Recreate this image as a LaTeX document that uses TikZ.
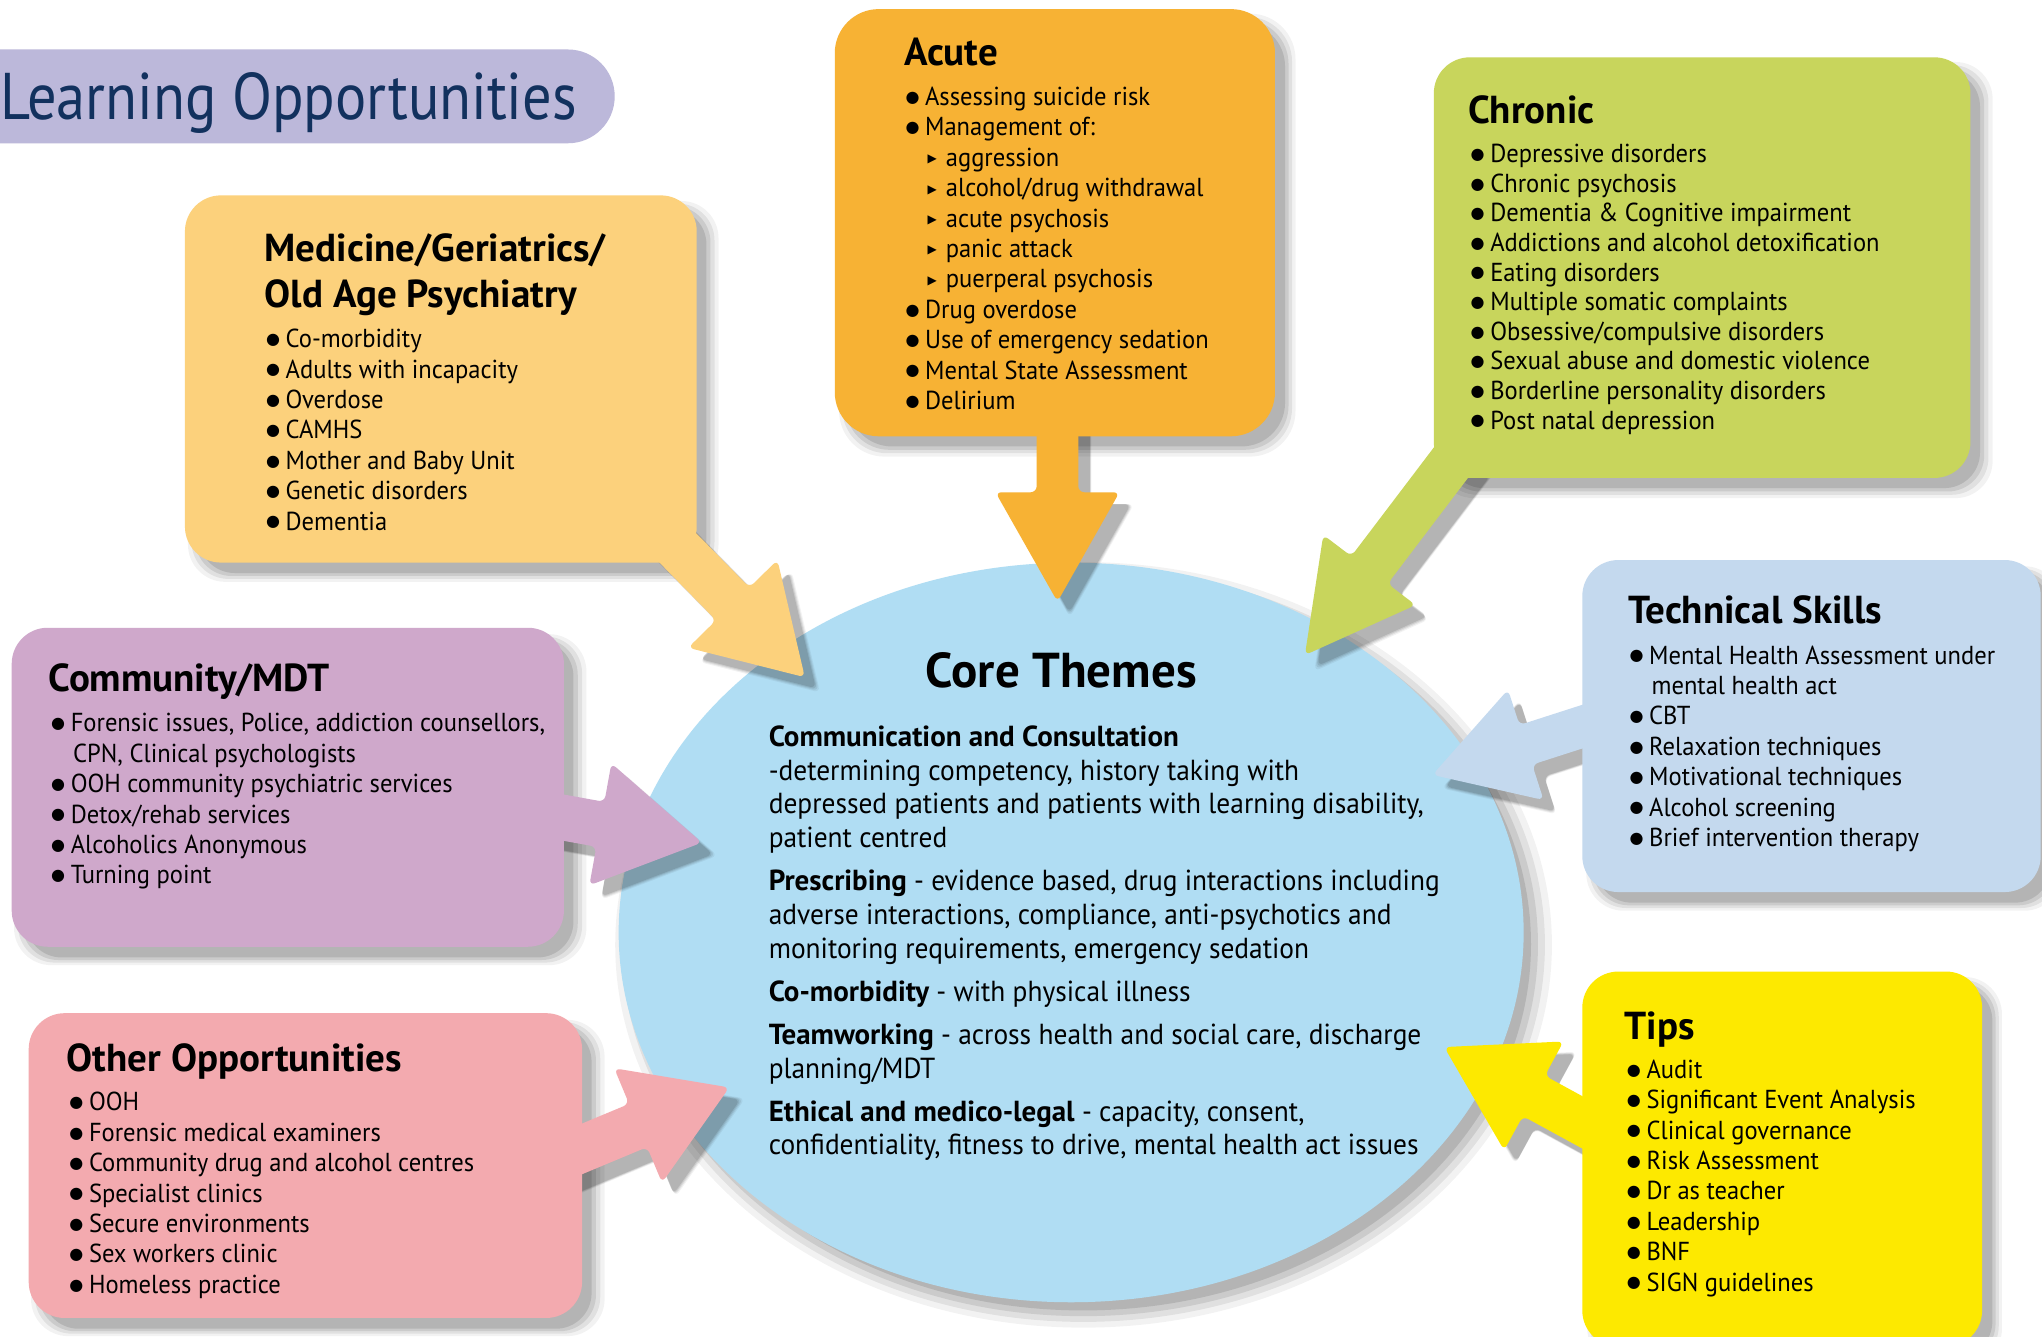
\documentclass[tikz,border=0pt]{standalone}
\usepackage{fontspec}
\setmainfont{PT Sans}
\newfontfamily\bodyf[FakeStretch=0.945]{PT Sans}
\newfontfamily\ttlf[FakeStretch=0.885]{PT Sans}
\newfontfamily\symf{DejaVu Sans}
\usetikzlibrary{shapes.geometric,calc,shadows}
\pgfdeclarelayer{bg}\pgfdeclarelayer{shad}\pgfdeclarelayer{arr}
\pgfsetlayers{bg,shad,arr,main}
\definecolor{cTitleBg}{HTML}{BCB8DA}
\definecolor{cNavy}{HTML}{12315E}
\definecolor{cMed}{HTML}{FCD17C}
\definecolor{cAcute}{HTML}{F7B234}
\definecolor{cChron}{HTML}{C8D55C}
\definecolor{cTech}{HTML}{C4D9EE}
\definecolor{cTips}{HTML}{FDE900}
\definecolor{cComm}{HTML}{CFA8CB}
\definecolor{cOther}{HTML}{F3AAAF}
\definecolor{cCore}{HTML}{B0DDF3}
\newcommand\bu{\makebox[9.8pt][l]{\raisebox{1.6pt}{\symf\fontsize{8}{8}\selectfont ●}}}
\newcommand\sbu{\hspace*{11pt}\makebox[9.2pt][l]{\raisebox{1.8pt}{\symf\fontsize{6}{6}\selectfont ▶}}}
\newcommand\cont{\hspace*{11pt}}
\newcommand\cb[1]{{\normalfont\bfseries #1}}
\newcommand\fatarrow[6]{%
  \coordinate (aB) at ($(#3)!#6!(#2)$);
  \fill[#1] ($(#2)!#4!90:(#3)$) -- ($(aB)!#4!-90:(#2)$) -- ($(aB)!#5!-90:(#2)$)
    -- (#3) -- ($(aB)!#5!90:(#2)$) -- ($(aB)!#4!90:(#2)$) -- ($(#2)!#4!-90:(#3)$) -- cycle;}
\tikzset{
  softshad/.style={
    general shadow={shadow xshift=6pt,shadow yshift=-6pt,shadow scale=1.035,fill=black,opacity=.05},
    general shadow={shadow xshift=6pt,shadow yshift=-6pt,shadow scale=1.02,fill=black,opacity=.07},
    general shadow={shadow xshift=6pt,shadow yshift=-6pt,shadow scale=1.005,fill=black,opacity=.09},
    general shadow={shadow xshift=6pt,shadow yshift=-6pt,shadow scale=0.99,fill=black,opacity=.11}},
  box/.style={rectangle, rounded corners=18pt, inner sep=0},
  ttl/.style={anchor=base west, inner sep=0, font=\bfseries\fontsize{19.5}{22.8}\selectfont},
  lst/.style={anchor=base west, inner sep=0, font=\bodyf\fontsize{13}{15.2}\selectfont},
  arrowshape/.style={rounded corners=3pt, softshad}
}
\begin{document}
\begin{tikzpicture}[x=0.65115pt,y=-0.65115pt]
\useasboundingbox (0,0) rectangle (1568,1026);

% background and core ellipse
\begin{pgfonlayer}{bg}
\fill[white] (0,0) rectangle (1568,1026);
\node[ellipse, fill=cCore, minimum width=452.5pt, minimum height=369.8pt, inner sep=0, softshad] (core) at (822.5,716) {};
\end{pgfonlayer}

% title pill
\node[box, rounded corners=23.4pt, fill=cTitleBg, minimum width=333.4pt, minimum height=46.9pt] (pill) at (216,74) {};
\node[anchor=base west, inner sep=0, text=cNavy, font=\ttlf\fontsize{33}{36}\selectfont] (ttlLO) at (0,92) {Learning Opportunities};

% boxes
\node[box, fill=cMed, minimum width=255.9pt, minimum height=183.6pt] (med) at (338.5,291) {};
\node[box, fill=cAcute, minimum width=220.1pt, minimum height=213.6pt, rounded corners=22pt] (acu) at (810,171) {};
\node[box, fill=cChron, minimum width=268.3pt, minimum height=210.3pt] (chr) at (1307,205.5) {};
\node[box, fill=cTech, minimum width=229.2pt, minimum height=166pt] (tec) at (1391,557.5) {};
\node[box, fill=cTips, minimum width=199.9pt, minimum height=187.5pt] (tip) at (1368.5,890) {};
\node[box, fill=cComm, minimum width=276.1pt, minimum height=159.5pt] (com) at (221,604.5) {};
\node[box, fill=cOther, minimum width=276.7pt, minimum height=152.4pt] (oth) at (234.5,895) {};

% box shadows
\begin{pgfonlayer}{shad}
\foreach \n in {med,chr,tec,tip,com,oth}{
  \path[softshad, rounded corners=18pt] (\n.north west) rectangle (\n.south east);}
\path[softshad, rounded corners=22pt] (acu.north west) rectangle (acu.south east);
\end{pgfonlayer}

% arrow endpoints
\coordinate (medS) at ($(med.south east)+(-30,-27)$);
\coordinate (medT) at (618,520);
\coordinate (acuS) at ($(acu.south)+(2,-15)$);
\coordinate (acuT) at (812,462);
\coordinate (chrS) at ($(chr.south west)+(21,-22)$);
\coordinate (chrT) at (1002,503);
\coordinate (tecS) at ($(tec.west)+(25,-7.5)$);
\coordinate (tecT) at (1100,595);
\coordinate (tipS) at ($(tip.west)+(30,-12)$);
\coordinate (tipT) at (1109,804);
\coordinate (comS) at ($(com.east)+(-33,17.5)$);
\coordinate (comT) at (539,647);
\coordinate (othS) at ($(oth.east)+(-31,0)$);
\coordinate (othT) at (560,835);

\begin{pgfonlayer}{arr}
\fatarrow{arrowshape,fill=cMed}{medS}{medT}{11.7pt}{31.3pt}{51.4pt}
\fatarrow{arrowshape,fill=cAcute}{acuS}{acuT}{10.4pt}{31pt}{54.7pt}
\fatarrow{arrowshape,fill=cChron}{chrS}{chrT}{11.4pt}{29pt}{53.4pt}
\fatarrow{arrowshape,fill=cTech}{tecS}{tecT}{10.4pt}{29pt}{49pt}
\fatarrow{arrowshape,fill=cTips}{tipS}{tipT}{11.5pt}{31pt}{51pt}
\fatarrow{arrowshape,fill=cComm}{comS}{comT}{11.4pt}{31pt}{51.6pt}
\fatarrow{arrowshape,fill=cOther}{othS}{othT}{11.7pt}{31pt}{49.4pt}
\end{pgfonlayer}

% Medicine
\node[ttl] (medT1) at (203,201) {\begin{tabular}[t]{@{}l@{}}Medicine/Geriatrics/\\Old Age Psychiatry\end{tabular}};
\node[lst] (medL) at (204,267) {\begin{tabular}[t]{@{}l@{}}
\bu Co-morbidity\\ \bu Adults with incapacity\\ \bu Overdose\\ \bu CAMHS\\
\bu Mother and Baby Unit\\ \bu Genetic disorders\\ \bu Dementia\end{tabular}};

% Acute
\node[ttl] (acuT1) at (694,50) {Acute};
\node[lst] (acuL) at (695,81) {\begin{tabular}[t]{@{}l@{}}
\bu Assessing suicide risk\\ \bu Management of:\\ \sbu aggression\\ \sbu alcohol/drug withdrawal\\
\sbu acute psychosis\\ \sbu panic attack\\ \sbu puerperal psychosis\\ \bu Drug overdose\\
\bu Use of emergency sedation\\ \bu Mental State Assessment\\ \bu Delirium\end{tabular}};

% Chronic
\node[ttl] (chrT1) at (1127,95) {Chronic};
\node[lst, font=\bodyf\fontsize{13}{14.8}\selectfont] (chrL) at (1129,125) {\begin{tabular}[t]{@{}l@{}}
\bu Depressive disorders\\ \bu Chronic psychosis\\ \bu Dementia \& Cognitive impairment\\
\bu Addictions and alcohol detoxification\\ \bu Eating disorders\\ \bu Multiple somatic complaints\\
\bu Obsessive/compulsive disorders\\ \bu Sexual abuse and domestic violence\\
\bu Borderline personality disorders\\ \bu Post natal depression\end{tabular}};

% Technical skills
\node[ttl] (tecT1) at (1250,479) {Technical Skills};
\node[lst] (tecL) at (1251,510) {\begin{tabular}[t]{@{}l@{}}
\bu Mental Health Assessment under\\ \cont mental health act\\ \bu CBT\\ \bu Relaxation techniques\\
\bu Motivational techniques\\ \bu Alcohol screening\\ \bu Brief intervention therapy\end{tabular}};

% Tips
\node[ttl] (tipT1) at (1247,798) {Tips};
\node[lst] (tipL) at (1249,828) {\begin{tabular}[t]{@{}l@{}}
\bu Audit\\ \bu Significant Event Analysis\\ \bu Clinical governance\\ \bu Risk Assessment\\
\bu Dr as teacher\\ \bu Leadership\\ \bu BNF\\ \bu SIGN guidelines\end{tabular}};

% Community
\node[ttl] (comT1) at (37,531) {Community/MDT};
\node[lst] (comL) at (39,562) {\begin{tabular}[t]{@{}l@{}}
\bu Forensic issues, Police, addiction counsellors,\\ \cont CPN, Clinical psychologists\\
\bu OOH community psychiatric services\\ \bu Detox/rehab services\\
\bu Alcoholics Anonymous\\ \bu Turning point\end{tabular}};

% Other
\node[ttl] (othT1) at (51,823) {Other Opportunities};
\node[lst] (othL) at (53,853) {\begin{tabular}[t]{@{}l@{}}
\bu OOH\\ \bu Forensic medical examiners\\ \bu Community drug and alcohol centres\\
\bu Specialist clinics\\ \bu Secure environments\\ \bu Sex workers clinic\\ \bu Homeless practice\end{tabular}};

% Core
\node[anchor=base, inner sep=0, font=\bfseries\fontsize{24.5}{28}\selectfont] (coreT) at (815,528) {Core Themes};
\node[anchor=base west, inner sep=0, font=\bodyf\fontsize{14.5}{16.9}\selectfont] (coreL) at (590,573) {\begin{tabular}[t]{@{}l@{}}
\cb{Communication and Consultation}\\
-determining competency, history taking with\\
depressed patients and patients with learning disability,\\
patient centred\\[4.6pt]
\cb{Prescribing} - evidence based, drug interactions including\\
adverse interactions, compliance, anti-psychotics and\\
monitoring requirements, emergency sedation\\[4.6pt]
\cb{Co-morbidity} - with physical illness\\[4.6pt]
\cb{Teamworking} - across health and social care, discharge\\
planning/MDT\\[4.6pt]
\cb{Ethical and medico-legal} - capacity, consent,\\
confidentiality, fitness to drive, mental health act issues\end{tabular}};
\end{tikzpicture}
\end{document}
